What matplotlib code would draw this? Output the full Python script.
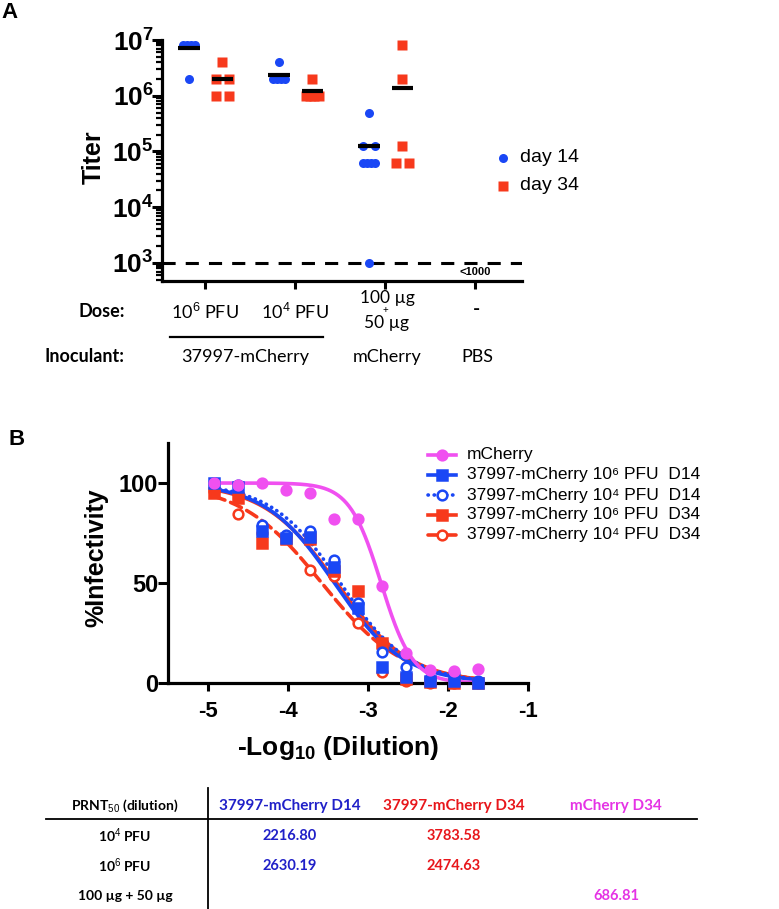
import numpy as np
import matplotlib
matplotlib.use("Agg")
import matplotlib.pyplot as plt
from matplotlib.lines import Line2D
from matplotlib.ticker import LogLocator, NullFormatter

plt.rcParams["font.family"] = ["Liberation Sans", "DejaVu Sans"]
plt.rcParams["mathtext.fontset"] = "custom"
plt.rcParams["mathtext.rm"] = "Liberation Sans"
plt.rcParams["mathtext.bf"] = "Liberation Sans:bold"
plt.rcParams["mathtext.it"] = "Liberation Sans:italic"
plt.rcParams["axes.unicode_minus"] = False

# --- Panel A data: titers per group ---
dose_labels = ["10$^{6}$ PFU", "10$^{4}$ PFU", "", "-"]
inoculants = ["37997-mCherry", "mCherry", "PBS"]
day14_titer = [[8e6, 8e6, 8e6, 8e6, 2e6],
               [4e6, 2e6, 2e6, 2e6, 2e6],
               [5e5, 1.25e5, 1.25e5, 6.25e4, 6.25e4, 6.25e4, 6.25e4, 1e3],
               []]
day34_titer = [[4e6, 2e6, 2e6, 1e6, 1e6],
               [2e6, 1e6, 1e6, 1e6, 1e6],
               [8e6, 2e6, 1.25e5, 6.25e4, 6.25e4],
               []]
day14_line = [7.2e6, 2.4e6, 1.25e5]
day34_line = [2.0e6, 1.2e6, 1.35e6]
detect_limit = 1e3

# --- Panel B data: % infectivity vs -log10 dilution ---
x_log = [-4.93, -4.63, -4.33, -4.03, -3.73, -3.42, -3.12, -2.82, -2.52, -2.22, -1.92, -1.62]
mcherry = [100, 99, 100, 96.5, 95, 82, 82, 48.5, 15, 6.5, 6, 7]
d14_1e6 = [100, 98, 76, 72.5, 73, 58, 37.5, 8, 3, 1, 1, 0]
d14_1e4 = [100, 99, 79, 74, 76, 61.5, 40, 15.7, 8, 2, 5, 1]
d34_1e6 = [95, 92.5, 70, 72, 72, 56, 46, 20, 2, 0.5, 0, 0]
d34_1e4 = [96, 84.5, 75, 73, 56.5, 53.5, 30, 5.5, 1, 0, 0, 0]

# PRNT50 table
table_cols = ["37997-mCherry D14", "37997-mCherry D34", "mCherry D34"]
table_rows = ["10$^{4}$ PFU", "10$^{6}$ PFU", "100 µg + 50 µg"]
prnt50_d14 = [2216.80, 2630.19, None]
prnt50_d34 = [3783.58, 2474.63, None]
prnt50_mch = [None, None, 686.81]
hill = [2.2, 1.0, 1.0, 0.95, 0.85]

BLUE = "#1a47f5"
RED = "#f7391c"
PINK = "#f050f0"

W, H = 779, 909
fig = plt.figure(figsize=(W / 100, H / 100), dpi=100)


def fx(p):
    return p / W


def fy(p):
    return 1 - p / H


def spread(vals, center, half=0.072):
    vals = np.asarray(vals, float)
    xs = np.full(len(vals), center, float)
    for v in np.unique(vals):
        idx = np.where(vals == v)[0]
        if len(idx) > 1:
            xs[idx] = center + np.linspace(-half, half, len(idx))
    return xs


# ================= Panel A =================
axA = fig.add_axes([fx(162), fy(281), fx(522) - fx(162), fy(40) - fy(281)])
axA.set_yscale("log")
axA.set_ylim(10 ** 2.677, 1e7)
axA.set_xlim(0.52, 4.52)

for i in range(4):
    pos = i + 1
    if day14_titer[i]:
        axA.plot(spread(day14_titer[i], pos - 0.18), day14_titer[i], "o", ms=6.5,
                 color=BLUE, mec="none", clip_on=False, zorder=3)
    if day34_titer[i]:
        axA.plot(spread(day34_titer[i], pos + 0.19), day34_titer[i], "s", ms=7,
                 color=RED, mec="none", clip_on=False, zorder=3)
for i, v in enumerate(day14_line):
    axA.hlines(v, i + 1 - 0.18 - 0.12, i + 1 - 0.18 + 0.12, color="black", lw=3, zorder=4)
for i, v in enumerate(day34_line):
    axA.hlines(v, i + 1 + 0.19 - 0.12, i + 1 + 0.19 + 0.12, color="black", lw=3, zorder=4)

axA.axhline(detect_limit, color="black", lw=2.2, ls=(0, (4.3, 3.3)), zorder=2)
axA.text(4, 10 ** 2.83, "<1000", ha="center", va="center", fontsize=8, fontweight="bold")

for s in ["top", "right"]:
    axA.spines[s].set_visible(False)
for s in ["left", "bottom"]:
    axA.spines[s].set_linewidth(2.3)
axA.set_yticks([1e3, 1e4, 1e5, 1e6, 1e7])
axA.set_yticklabels([r"$\mathbf{10^{%d}}$" % k for k in range(3, 8)], fontsize=19)
axA.yaxis.set_minor_locator(LogLocator(base=10, subs=np.arange(2, 10)))
axA.yaxis.set_minor_formatter(NullFormatter())
axA.tick_params(axis="y", which="major", length=7, width=2.2, pad=-1)
axA.tick_params(axis="y", which="minor", length=4, width=1.6)
axA.set_xticks([1, 2, 3, 4])
axA.set_xticklabels([])
axA.tick_params(axis="x", length=6, width=2.2)

fig.text(fx(9), fy(13), "A", fontsize=16, fontweight="bold", ha="center", va="center")
fig.text(fx(94), fy(157), "Titer", fontsize=18, fontweight="bold", rotation=90,
         ha="center", va="center")

# legend A
fig.add_artist(Line2D([fx(503)], [fy(158)], marker="o", ms=6.5, color=BLUE, mec="none",
                      transform=fig.transFigure))
fig.add_artist(Line2D([fx(503)], [fy(186)], marker="s", ms=7, color=RED, mec="none",
                      transform=fig.transFigure))
fig.text(fx(520), fy(158), "day 14", fontsize=14, va="center")
fig.text(fx(520), fy(186), "day 34", fontsize=14, va="center")

# labels under panel A
calib = ["Lato", "DejaVu Sans"]
fig.text(fx(125), fy(312), "Dose:", family=calib, fontweight="bold", fontsize=13,
         ha="right", va="center")
fig.text(fx(125), fy(357), "Inoculant:", family=calib, fontweight="bold", fontsize=13,
         ha="right", va="center")
tick_px = [205, 295, 387, 477]
for p, lab in zip(tick_px, dose_labels):
    if lab == "-":
        fig.text(fx(p), fy(310), "-", family=calib, fontweight="bold", fontsize=14,
                 ha="center", va="center")
    elif lab:
        fig.text(fx(p), fy(312), lab, family=calib, fontsize=13, ha="center", va="center")
fig.text(fx(387), fy(298), "100 µg", family=calib, fontsize=12.5, ha="center", va="center")
fig.text(fx(385), fy(311), "+", family=calib, fontsize=7, ha="center", va="center")
fig.text(fx(387), fy(323), "50 µg", family=calib, fontsize=12.5, ha="center", va="center")
fig.add_artist(Line2D([fx(170), fx(323)], [fy(337), fy(337)], color="black", lw=1.6,
                      transform=fig.transFigure))
for p, lab in zip([245, 387, 477], inoculants):
    fig.text(fx(p), fy(357), lab, family=calib, fontsize=13, ha="center", va="center")

# ================= Panel B =================
axB = fig.add_axes([fx(168), fy(683), fx(528) - fx(168), fy(443) - fy(683)])
axB.set_xlim(-5.5, -1)
axB.set_ylim(0, 120)

series = [
    ("37997-mCherry 10⁴ PFU  D34", d34_1e4, prnt50_d34[0], hill[4], RED, "o", "white", (0, (3.3, 1.7))),
    ("37997-mCherry 10⁶ PFU  D34", d34_1e6, prnt50_d34[1], hill[3], RED, "s", RED, "-"),
    ("37997-mCherry 10⁴ PFU  D14", d14_1e4, prnt50_d14[0], hill[2], BLUE, "o", "white", (0, (0.1, 1.6))),
    ("37997-mCherry 10⁶ PFU  D14", d14_1e6, prnt50_d14[1], hill[1], BLUE, "s", BLUE, "-"),
    ("mCherry", mcherry, prnt50_mch[2], hill[0], PINK, "o", PINK, "-"),
]
xs = np.linspace(x_log[0], x_log[-1], 300)
for lab, yv, ic50, h, col, mk, mfc, ls in series:
    curve = 100 / (1 + 10 ** ((xs + np.log10(ic50)) * h))
    axB.plot(xs, curve, color=col, lw=2.6, ls=ls, dash_capstyle="round", zorder=2)
for lab, yv, ic50, h, col, mk, mfc, ls in series:
    axB.plot(x_log, yv, mk, ms=7, mfc=mfc, mec=col, mew=1.8, clip_on=False, zorder=3)

for s in ["top", "right"]:
    axB.spines[s].set_visible(False)
for s in ["left", "bottom"]:
    axB.spines[s].set_linewidth(2.3)
axB.set_yticks([0, 50, 100])
axB.set_yticklabels(["0", "50", "100"], fontsize=17, fontweight="bold")
axB.set_xticks([-5, -4, -3, -2, -1])
axB.set_xticklabels(["-5", "-4", "-3", "-2", "-1"], fontsize=16, fontweight="bold")
axB.tick_params(axis="y", length=7, width=2.2, pad=0)
axB.tick_params(axis="x", length=6, width=2.2, pad=7)

fig.text(fx(17), fy(439), "B", fontsize=16, fontweight="bold", ha="center", va="center")
fig.text(fx(96), fy(558), "%Infectivity", fontsize=18, fontweight="bold", rotation=90,
         ha="center", va="center")
fig.text(fx(338), fy(748), r"-Log$_{\mathbf{10}}$ (Dilution)", fontsize=19,
         fontweight="bold", ha="center", va="center")

# legend B (top to bottom)
leg_rows = [series[4], series[3], series[2], series[1], series[0]]
for k, (lab, yv, ic50, h, col, mk, mfc, ls) in enumerate(leg_rows):
    yy = fy(455 + k * 20)
    fig.add_artist(Line2D([fx(428), fx(456)], [yy, yy], color=col, lw=2.6, ls=ls,
                          dash_capstyle="round", transform=fig.transFigure))
    fig.add_artist(Line2D([fx(442)], [yy], marker=mk, ms=7, mfc=mfc, mec=col, mew=1.8,
                          transform=fig.transFigure))
    fig.text(fx(467), yy, lab, fontsize=12.5, va="center")

# ================= Table =================
tcol_px = [290, 454, 616]
tcolors = ["#2020c8", "#e8161b", "#e533e5"]
fig.text(fx(125), fy(806), "PRNT$_{50}$ (dilution)", family=calib, fontweight="bold",
         fontsize=10, ha="center", va="center")
for p, lab, c in zip(tcol_px, table_cols, tcolors):
    fig.text(fx(p), fy(806), lab, family=calib, fontweight="bold", fontsize=11,
             color=c, ha="center", va="center")
fig.add_artist(Line2D([fx(46), fx(697)], [fy(819), fy(819)], color="black", lw=1.3,
                      transform=fig.transFigure))
fig.add_artist(Line2D([fx(208), fx(208)], [fy(788), fy(909)], color="black", lw=1.3,
                      transform=fig.transFigure))
row_py = [836, 866, 896]
for r, lab in enumerate(table_rows):
    fig.text(fx(125), fy(row_py[r]), lab, family=calib, fontweight="bold", fontsize=10,
             ha="center", va="center")
    for p, vals, c in zip(tcol_px, [prnt50_d14, prnt50_d34, prnt50_mch], tcolors):
        if vals[r] is not None:
            fig.text(fx(p), fy(row_py[r]), "%.2f" % vals[r], family=calib,
                     fontweight="bold", fontsize=10.5, color=c, ha="center", va="center")

fig.savefig("out.png", dpi=100)
